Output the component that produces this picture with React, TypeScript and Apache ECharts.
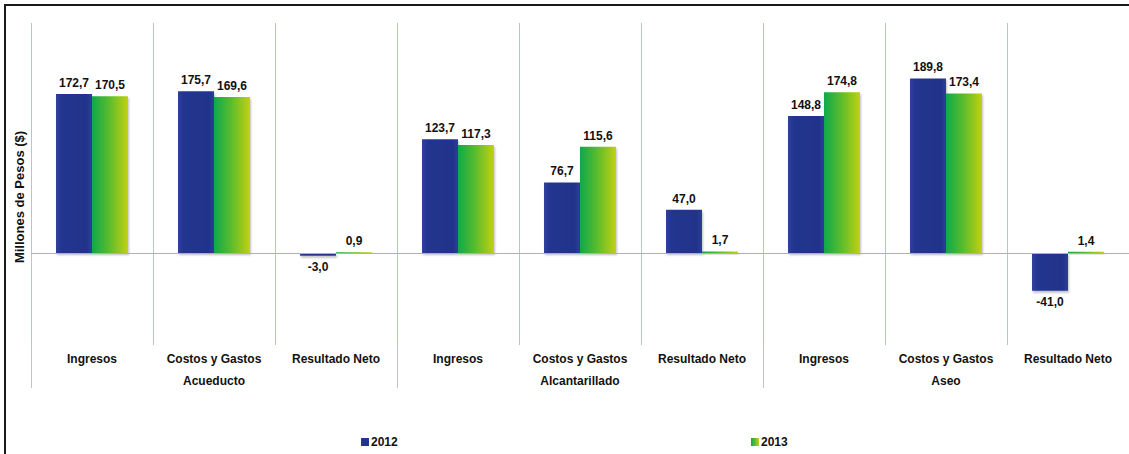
import React, { useEffect, useRef } from "react";
import * as echarts from "echarts";

const categories = [
  "Ingresos", "Costos y Gastos", "Resultado Neto",
  "Ingresos", "Costos y Gastos", "Resultado Neto",
  "Ingresos", "Costos y Gastos", "Resultado Neto",
];
const groups = ["Acueducto", "Alcantarillado", "Aseo"];
const values2012 = [172.7, 175.7, -3.0, 123.7, 76.7, 47.0, 148.8, 189.8, -41.0];
const values2013 = [170.5, 169.6, 0.9, 117.3, 115.6, 1.7, 174.8, 173.4, 1.4];
const seriesNames = ["2012", "2013"];
const yAxisTitle = "Millones de Pesos ($)";

const FONT = "'Liberation Sans', Arial, sans-serif";

const fmt = (v: number) => v.toFixed(1).replace(".", ",");

export default function App() {
  const ref = useRef<HTMLDivElement>(null);
  useEffect(() => {
    if (!ref.current) return;
    const chart = echarts.init(ref.current, undefined, { renderer: "svg" });
    const blue = new echarts.graphic.LinearGradient(0, 0, 1, 0, [
      { offset: 0, color: "#2f40a0" },
      { offset: 0.15, color: "#24358f" },
      { offset: 0.85, color: "#22338b" },
      { offset: 1, color: "#2c3d9a" },
    ]);
    const green = new echarts.graphic.LinearGradient(0, 0, 1, 0, [
      { offset: 0, color: "#0fa84c" },
      { offset: 0.45, color: "#55bb2f" },
      { offset: 1, color: "#c2d013" },
    ]);
    const label = {
      show: true,
      position: "outside",
      distance: 5,
      formatter: (p: any) => fmt(p.value),
      fontFamily: FONT,
      fontWeight: "bold",
      fontSize: 12,
      color: "#111",
    };
    const shadow = {
      shadowColor: "rgba(0,0,0,0.25)",
      shadowBlur: 2,
      shadowOffsetX: 1,
      shadowOffsetY: 2,
    };
    const legendText = { fontFamily: FONT, fontWeight: "bold", fontSize: 12, color: "#111", padding: [0, 0, 0, -3] };
    chart.setOption({
      animation: false,
      textStyle: { fontFamily: FONT },
      grid: { left: 31, right: 0, top: 23, bottom: 109 },
      legend: [
        {
          data: [seriesNames[0]],
          left: 356,
          top: 431,
          icon: "rect",
          itemWidth: 8,
          itemHeight: 8,
          textStyle: legendText,
        },
        {
          data: [seriesNames[1]],
          left: 746,
          top: 431,
          icon: "rect",
          itemWidth: 8,
          itemHeight: 8,
          textStyle: legendText,
        },
      ],
      xAxis: [
        {
          type: "category",
          data: categories,
          position: "bottom",
          axisLine: { show: false },
          axisTick: { show: false },
          splitLine: { show: true, lineStyle: { color: "#b4c4e0", width: 1 } },
          axisLabel: {
            interval: 0,
            margin: 8,
            fontFamily: FONT,
            fontWeight: "bold",
            fontSize: 12,
            color: "#111",
          },
        },
        {
          type: "category",
          data: groups,
          position: "bottom",
          axisLine: { show: false },
          axisTick: { show: true, length: 43, lineStyle: { color: "#c4c4c4", width: 1 } },
          splitLine: { show: false },
          axisLabel: {
            interval: 0,
            margin: 30,
            fontFamily: FONT,
            fontWeight: "bold",
            fontSize: 12,
            color: "#111",
          },
        },
      ],
      yAxis: {
        type: "value",
        min: -100,
        max: 250,
        show: false,
        splitLine: { show: false },
      },
      graphic: [
        {
          type: "rect",
          shape: { x: 5, y: 5, width: 1200, height: 500 },
          style: { fill: "none", stroke: "#1a1a1a", lineWidth: 2 },
          silent: true,
        },
        {
          type: "text",
          x: 19,
          y: 197,
          rotation: Math.PI / 2,
          style: {
            text: yAxisTitle,
            fontFamily: FONT,
            fontWeight: "bold",
            fontSize: 13,
            fill: "#111",
            align: "center",
            verticalAlign: "middle",
          },
        },
      ],
      series: [
        {
          name: seriesNames[0],
          type: "bar",
          xAxisIndex: 0,
          data: values2012,
          barWidth: 36,
          barGap: "0%",
          itemStyle: { color: blue, ...shadow },
          label,
          markLine: {
            silent: true,
            symbol: "none",
            label: { show: false },
            lineStyle: { color: "#b0b0b0", width: 1, type: "solid" },
            data: [{ yAxis: 0 }],
          },
        },
        {
          name: seriesNames[1],
          type: "bar",
          xAxisIndex: 0,
          data: values2013,
          barWidth: 36,
          barGap: "0%",
          itemStyle: { color: green, ...shadow },
          label,
        },
      ],
    });
    return () => chart.dispose();
  }, []);
  return (
    <div
      ref={ref}
      style={{ position: "fixed", left: 0, top: 0, width: 1129, height: 454, background: "#fff" }}
    />
  );
}
